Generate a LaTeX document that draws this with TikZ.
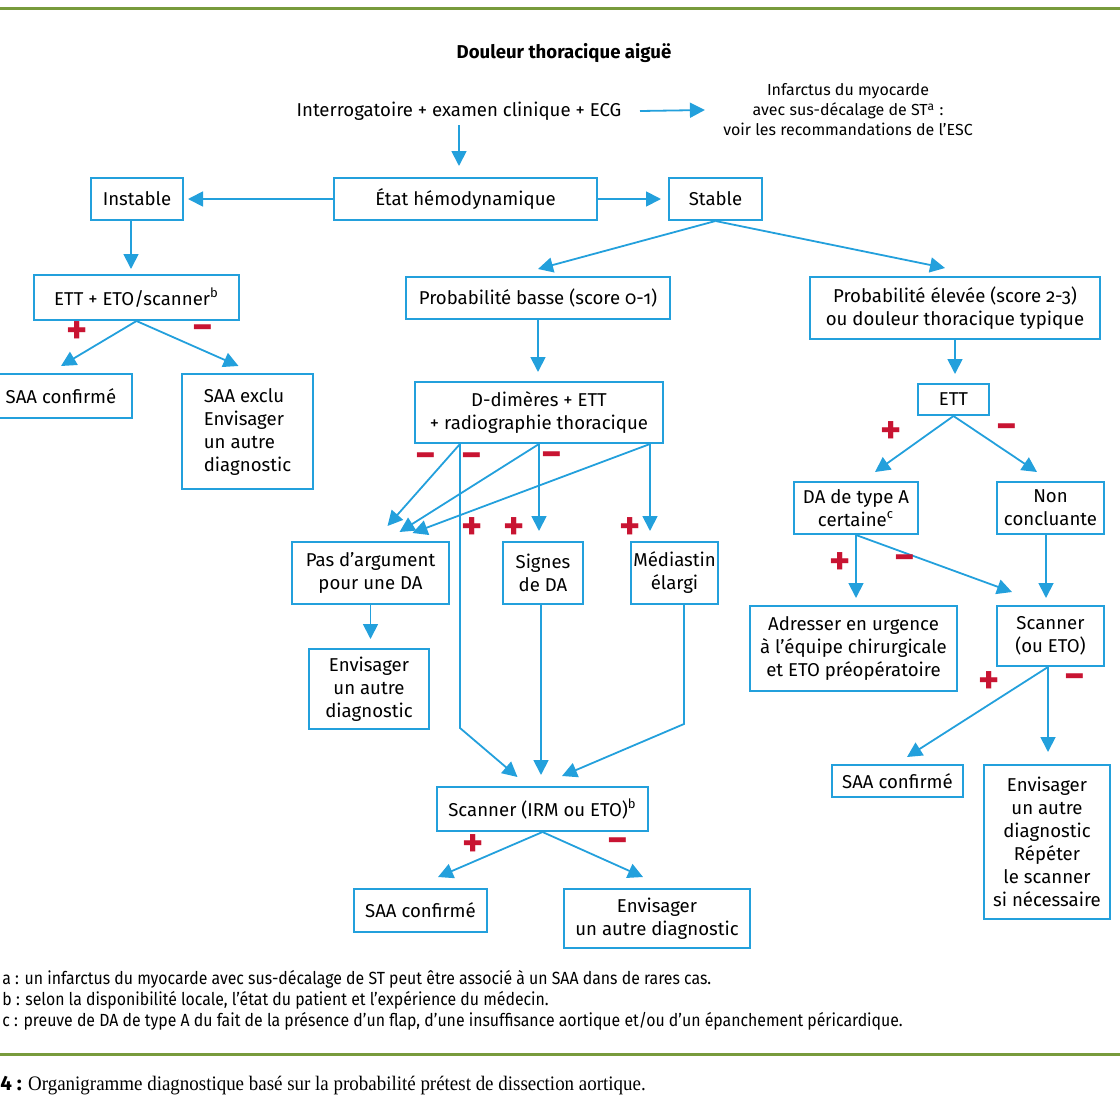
\documentclass[tikz,border=0pt]{standalone}
\usepackage{fontspec}
\setmainfont{Fira Sans}
\newfontfamily\footfont[FakeStretch=0.9]{Fira Sans}
\newfontfamily\capfont[FakeStretch=0.92]{Liberation Serif}
\usetikzlibrary{arrows.meta,calc}
\definecolor{fblue}{RGB}{35,160,220}
\definecolor{fred}{RGB}{200,20,50}
\definecolor{fgreen}{RGB}{120,155,60}
\newcommand\boxfont{\fontsize{9.3}{11.5}\selectfont}
\newcommand\bnode[6]{\node[box,minimum width={(#4-#2)*0.5pt},minimum height={(#5-#3)*0.5pt}] (#1) at ({(#2+#4)/2},{(#3+#5)/2}) {#6};}
\newcommand\osf[1]{{\addfontfeature{Numbers=OldStyle}#1}}
\begin{document}
\begin{tikzpicture}[x=0.5pt,y=-0.5pt,
  box/.style={draw=fblue,line width=1pt,inner sep=0pt,align=center,font=\boxfont},
  plain/.style={inner sep=0pt,align=center,font=\boxfont},
  arr/.style={draw=fblue,line width=0.9pt,-{Triangle[length=7.5pt,width=7.5pt]}},
  sign/.style={inner sep=0pt,text=fred,font=\fontsize{20}{20}\bfseries\selectfont},
  foot/.style={inner sep=0pt,anchor=west,font=\footfont\fontsize{8.8}{10}\selectfont},
  capt/.style={inner sep=0pt,anchor=west,font=\capfont\fontsize{10.3}{12}\selectfont},
  rule/.style={draw=fgreen,line width=1.5pt}]
\useasboundingbox (0,0) rectangle (1120,1120);
\clip (0,0) rectangle (1120,1120);
\draw[rule] (0,8) -- (1120,8);
\draw[rule] (0,1054) -- (1120,1054);

\node[plain,font=\bfseries\fontsize{9.3}{12}\selectfont] (title) at (564,53) {Douleur thoracique aiguë};
\node[plain] (q) at (459,111) {Interrogatoire + examen clinique + ECG};
\node[plain,font=\fontsize{8}{10}\selectfont] (imi) at (848,110) {Infarctus du myocarde\\avec sus-décalage de ST\textsuperscript{a} :\\voir les recommandations de l’ESC};

\bnode{eh}{334}{178}{597}{220}{État hémodynamique}
\bnode{inst}{91}{178}{183}{220}{Instable}
\bnode{stab}{669}{178}{762}{220}{Stable}
\bnode{ett1}{34}{275}{239}{320}{ETT + ETO/scanner\textsuperscript{b}}
\bnode{saac1}{-10}{374}{132}{418}{SAA confirmé}
\node[box,align=left,minimum width=65.5pt,minimum height=57.5pt] (saae1) at (247.5,431.5) {SAA exclu\\Envisager\\un autre\\diagnostic};
\bnode{pb}{406}{277}{670}{319}{Probabilité basse (score \osf{0-1})}
\bnode{pe}{810}{277}{1100}{339}{Probabilité élevée (score \osf{2-3})\\ou douleur thoracique typique}
\bnode{dd}{415}{382}{663}{443}{D-dimères + ETT\\+ radiographie thoracique}
\bnode{pas}{292}{542}{449}{604}{Pas d’argument\\pour une DA}
\bnode{sig}{503}{542}{583}{604}{Signes\\de DA}
\bnode{med}{631}{542}{718}{604}{Médiastin\\élargi}
\bnode{env2}{309}{649}{429}{729}{Envisager\\un autre\\diagnostic}
\bnode{scan}{437}{787}{648}{831}{Scanner (IRM ou ETO)\textsuperscript{b}}
\bnode{saac2}{354}{889}{487}{932}{SAA confirmé}
\bnode{env3}{564}{889}{750}{948}{Envisager\\un autre diagnostic}
\bnode{ett2}{918}{384}{989}{415}{ETT}
\bnode{da}{794}{482}{918}{534}{DA de type A\\certaine\textsuperscript{c}}
\bnode{nc}{997}{482}{1104}{534}{Non\\concluante}
\bnode{adr}{750}{606}{957}{691}{Adresser en urgence\\à l’équipe chirurgicale\\et ETO préopératoire}
\bnode{sc2}{997}{606}{1104}{666}{Scanner\\(ou ETO)}
\bnode{saac3}{832}{765}{963}{797}{SAA confirmé}
\bnode{env4}{984}{765}{1110}{919}{Envisager\\un autre\\diagnostic\\Répéter\\le scanner\\si nécessaire}

% connectors
\draw[arr] ($(q.center)+(0,14)$) -- ($(q.center |- eh.north)+(0,-11)$);
\draw[arr] ($(q.center)+(181,0)$) -- ($(imi.west)+(-18,0)$);
\draw[arr] (eh.west) -- ($(inst.east)+(4,0)$);
\draw[arr] (eh.east) -- ($(stab.west)+(-7,0)$);
\draw[arr] ($(inst.south)+(-6,0)$) -- ($(ett1.north)+(-5.5,-5)$);
\draw[arr] (ett1.south) -- ($(saac1.north)+(0,-7)$);
\draw[arr] (ett1.south) -- ($(saae1.north)+(-9,-7)$);
\draw[arr] (stab.south) -- ($(pb.north)+(0,-7)$);
\draw[arr] (stab.south) -- ($(pe.north)+(-10,-8)$);
\draw[arr] (pb.south) -- ($(pb.south |- dd.north)+(0,-9)$);
% from D-dimeres
\draw[arr] ($(dd.south)+(-79,0)$) -- ($(pas.north)+(17,-15)$);
\draw[arr] (dd.south) -- ($(pas.north)+(29,-9)$);
\draw[arr] ($(dd.south)+(111,0)$) -- ($(pas.north)+(42,-8)$);
\draw[arr] (dd.south) -- ($(dd.south |- sig.north)+(0,-10)$);
\draw[arr] ($(dd.south)+(111,0)$) -- ($(med.north)+(-24.5,-10)$);
\draw[arr] ($(dd.south)+(-79,0)$) -- ($(dd.south)+(-79,284)$) -- ($(scan.north)+(-25,-9)$);
\draw[arr] (pas.south) -- ($(pas.south)+(0,34)$);
\draw[arr] ($(sig.south)+(-2,0)$) -- ($(sig.south |- scan.north)+(-2,-11)$);
\draw[arr] ($(med.south)+(9.5,0)$) -- ($(med.south)+(9.5,119)$) -- ($(scan.north)+(19.5,-10)$);
\draw[arr] (scan.south) -- ($(saac2.north)+(17.5,-11)$);
\draw[arr] (scan.south) -- ($(env3.north)+(-14,-11)$);
% right branch
\draw[arr] (pe.south) -- ($(pe.south |- ett2.north)+(0,-9)$);
\draw[arr] (ett2.south) -- ($(da.north)+(19,-9)$);
\draw[arr] (ett2.south) -- ($(nc.north)+(-13.5,-9)$);
\draw[arr] (da.south) -- ($(da.south |- adr.north)+(0,-7)$);
\draw[arr] (da.south) -- ($(sc2.north)+(-38.5,-13)$);
\draw[arr] ($(nc.south)+(-4.5,0)$) -- ($(nc.south |- sc2.north)+(-4.5,-7)$);
\draw[arr] ($(sc2.south)+(-2.5,0)$) -- ($(saac3.north)+(9.5,-7)$);
\draw[arr] ($(sc2.south)+(-2.5,0)$) -- ($(sc2.south |- env4.north)+(-2.5,-12)$);

% signs
\node[sign] (p1) at (77,333) {+};
\node[sign] (m1) at (203,333) {−};
\node[sign] (m2) at (426,461) {−};
\node[sign] (m3) at (472,461) {−};
\node[sign] (m4) at (552,460) {−};
\node[sign] (p2) at (472,529) {+};
\node[sign] (p3) at (514,529) {+};
\node[sign] (p4) at (630,529) {+};
\node[sign] (p5) at (473,846) {+};
\node[sign] (m5) at (618,846) {−};
\node[sign] (p6) at (891,433) {+};
\node[sign] (m6) at (1007,432) {−};
\node[sign] (p7) at (840,564) {+};
\node[sign] (m7) at (905,563) {−};
\node[sign] (p8) at (989,683) {+};
\node[sign] (m8) at (1075,682) {−};

% footnotes
\node[foot] (fa) at (2,979) {a : un infarctus du myocarde avec sus-décalage de ST peut être associé à un SAA dans de rares cas.};
\node[foot] (fb) at (2,1000) {b : selon la disponibilité locale, l’état du patient et l’expérience du médecin.};
\node[foot] (fc) at (2,1021) {c : preuve de DA de type A du fait de la présence d’un flap, d’une insuffisance aortique et/ou d’un épanchement péricardique.};
\node[capt] (cap) at (0,1086) {{\fontspec{Fira Sans}\bfseries 4 :} Organigramme diagnostique basé sur la probabilité prétest de dissection aortique.};
\end{tikzpicture}
\end{document}
